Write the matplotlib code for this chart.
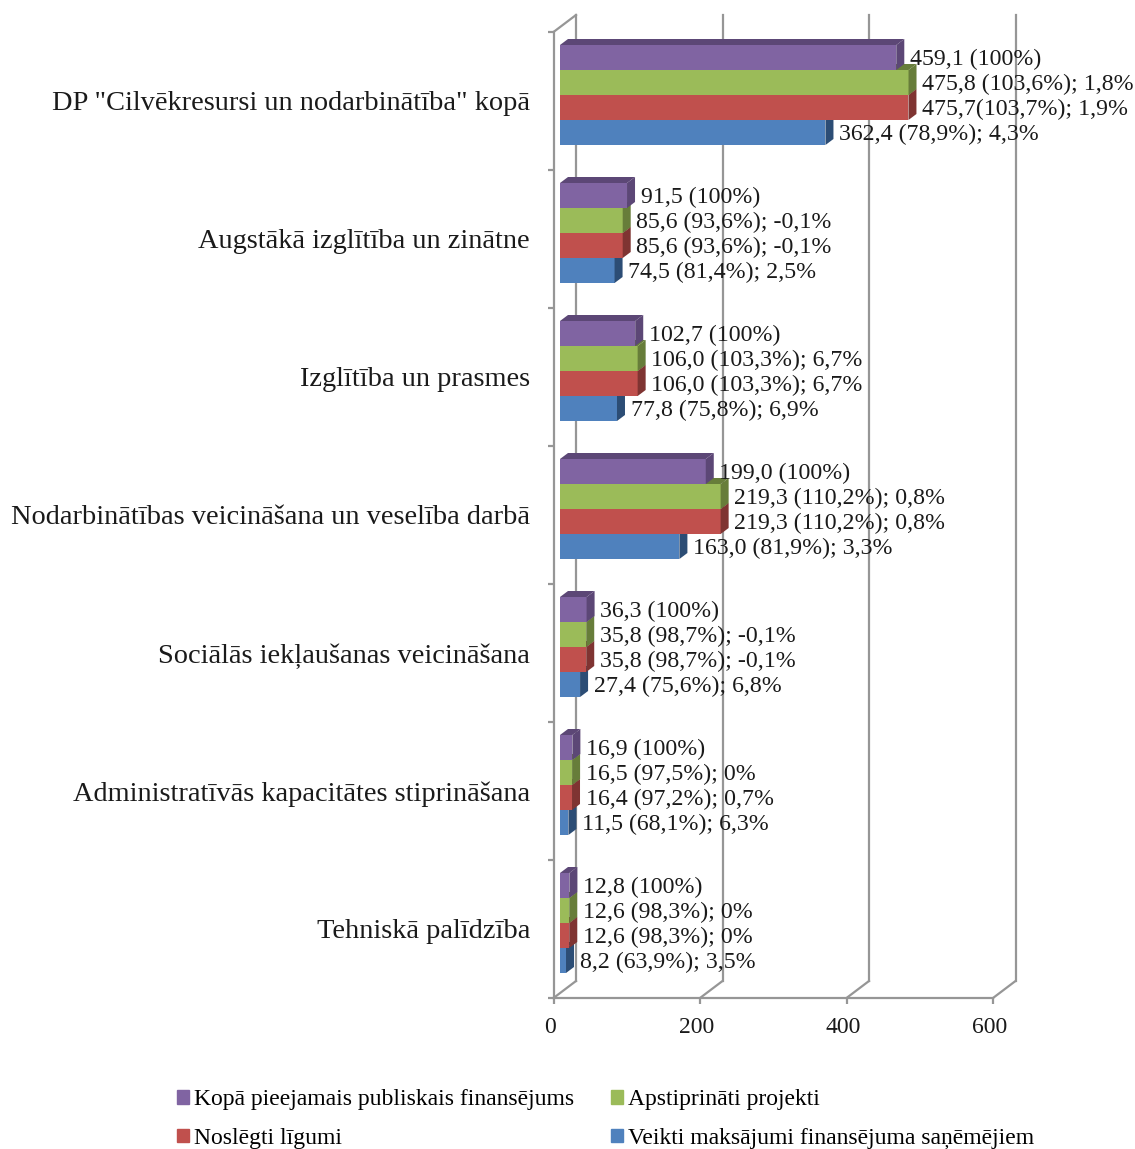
import matplotlib
matplotlib.use("Agg")
import matplotlib.pyplot as plt
from matplotlib.patches import Polygon, Patch
from matplotlib.transforms import ScaledTranslation

plt.rcParams['font.family'] = ['Liberation Serif', 'DejaVu Serif']

categories = ['DP "Cilvēkresursi un nodarbinātība" kopā',
              'Augstākā izglītība un zinātne',
              'Izglītība un prasmes',
              'Nodarbinātības veicināšana un veselība darbā',
              'Sociālās iekļaušanas veicināšana',
              'Administratīvās kapacitātes stiprināšana',
              'Tehniskā palīdzība']

total = [459.1, 91.5, 102.7, 199.0, 36.3, 16.9, 12.8]
approved = [475.8, 85.6, 106.0, 219.3, 35.8, 16.5, 12.6]
contracts = [475.7, 85.6, 106.0, 219.3, 35.8, 16.4, 12.6]
payments = [362.4, 74.5, 77.8, 163.0, 27.4, 11.5, 8.2]

total_labels = ['459,1 (100%)', '91,5 (100%)', '102,7 (100%)', '199,0 (100%)',
                '36,3 (100%)', '16,9 (100%)', '12,8 (100%)']
approved_labels = ['475,8 (103,6%); 1,8%', '85,6 (93,6%); -0,1%', '106,0 (103,3%); 6,7%',
                   '219,3 (110,2%); 0,8%', '35,8 (98,7%); -0,1%', '16,5 (97,5%); 0%',
                   '12,6 (98,3%); 0%']
contracts_labels = ['475,7(103,7%); 1,9%', '85,6 (93,6%); -0,1%', '106,0 (103,3%); 6,7%',
                    '219,3 (110,2%); 0,8%', '35,8 (98,7%); -0,1%', '16,4 (97,2%); 0,7%',
                    '12,6 (98,3%); 0%']
payments_labels = ['362,4 (78,9%); 4,3%', '74,5 (81,4%); 2,5%', '77,8 (75,8%); 6,9%',
                   '163,0 (81,9%); 3,3%', '27,4 (75,6%); 6,8%', '11,5 (68,1%); 6,3%',
                   '8,2 (63,9%); 3,5%']

series_names = ['Kopā pieejamais publiskais finansējums', 'Apstiprināti projekti',
                'Noslēgti līgumi', 'Veikti maksājumi finansējuma saņēmējiem']
colors = ['#8064A2', '#9BBB59', '#C0504D', '#4F81BD']
dark = ['#5C4776', '#677D3A', '#7F3432', '#2C4D75']
x_ticks = [0, 200, 400, 600]

W, H = 1135, 1149
fig = plt.figure(figsize=(W / 100, H / 100), dpi=100)
ax = fig.add_axes([553.5 / W, 1 - 998 / H, (993 - 553.5) / W, (998 - 32) / H])
ax.set_xlim(0, 600)
ax.set_ylim(7, 0)
ax.patch.set_visible(False)

# pixel sizes of the fake 3d look, in data units
ux = 600 / (993 - 553.5)
uy = 7 / (998 - 32)
wall_x, wall_y = 22.5 * ux, 17 * uy
bar_dx, bar_dy = 8 * ux, 6 * uy
bar_left = 6.5 * ux
bar_h = 25 * uy
bar_top = 13 * uy

grid = '#969696'
for t in x_ticks:
    # back wall line and the floor diagonal
    ax.plot([t + wall_x, t + wall_x], [7 - wall_y, -wall_y], color=grid, lw=1.6,
            clip_on=False, zorder=1)
    ax.plot([t, t + wall_x], [7, 7 - wall_y], color=grid, lw=1.6, clip_on=False, zorder=1)
ax.plot([0, wall_x], [0, -wall_y], color=grid, lw=1.6, clip_on=False, zorder=1)

values = [total, approved, contracts, payments]
labels = [total_labels, approved_labels, contracts_labels, payments_labels]

# bottom series first, so the upper bars sit over the top faces of the lower ones
for j in [3, 2, 1, 0]:
    for i, v in enumerate(values[j]):
        top = i + bar_top + j * bar_h
        bottom = top + bar_h
        right = bar_left + v
        z = 3 + (3 - j) * 0.1
        ax.barh(top + bar_h / 2, v, height=bar_h, left=bar_left, color=colors[j],
                edgecolor='none', zorder=z)
        ax.add_patch(Polygon([(right, top), (right + bar_dx, top - bar_dy),
                              (right + bar_dx, bottom - bar_dy), (right, bottom)],
                             closed=True, color=dark[j], lw=0, zorder=z, clip_on=False))
        ax.add_patch(Polygon([(bar_left, top), (bar_left + bar_dx, top - bar_dy),
                              (right + bar_dx, top - bar_dy), (right, top)],
                             closed=True, color=dark[j], lw=0, zorder=z, clip_on=False))
        ax.annotate(labels[j][i], xy=(right, top + bar_h / 2), xytext=(9.8, 0.7),
                    textcoords='offset points', ha='left', va='center_baseline',
                    fontsize=17.2, color='#1a1a1a', zorder=6, annotation_clip=False)

for s in ['top', 'right']:
    ax.spines[s].set_visible(False)
for s in ['left', 'bottom']:
    ax.spines[s].set_color(grid)
    ax.spines[s].set_linewidth(1.6)
    ax.spines[s].set_zorder(2)

ax.set_xticks(x_ticks)
ax.set_xticklabels([str(t) for t in x_ticks], fontsize=17, color='#1a1a1a')
ax.tick_params(axis='x', length=4, width=1.6, color=grid, pad=10)
for lab in ax.get_xticklabels():
    lab.set_transform(lab.get_transform() + ScaledTranslation(-2.5 / 72, 0, fig.dpi_scale_trans))

ax.set_yticks(range(8))
ax.set_yticklabels([])
ax.tick_params(axis='y', which='major', length=4.5, width=1.6, color=grid)
ax.set_yticks([i + 0.5 for i in range(7)], minor=True)
ax.set_yticklabels(categories, minor=True, fontsize=20.4, color='#1a1a1a')
ax.tick_params(axis='y', which='minor', length=0, pad=17)

order = [0, 2, 1, 3]
handles = [Patch(color=colors[k], label=series_names[k]) for k in order]
fig.legend(handles=handles, ncol=2, frameon=False, fontsize=17.05, loc='lower left',
           bbox_to_anchor=(177 / W, 1 - 1149 / H), handlelength=0.51, handleheight=0.51,
           handletextpad=0.21, columnspacing=1.55, labelspacing=0.74, borderpad=0,
           borderaxespad=0)

fig.savefig('out.png', dpi=100)
